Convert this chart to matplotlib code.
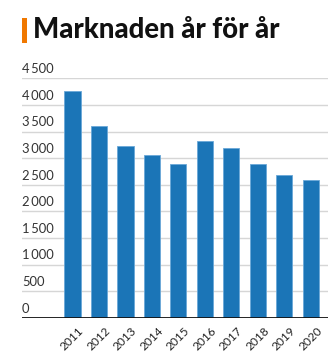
import matplotlib
matplotlib.use("Agg")
import matplotlib.pyplot as plt
from matplotlib.patches import Rectangle

years = ["2011", "2012", "2013", "2014", "2015", "2016", "2017", "2018", "2019", "2020"]
values = [4265, 3610, 3235, 3055, 2885, 3330, 3185, 2885, 2685, 2595]
yticks = [0, 500, 1000, 1500, 2000, 2500, 3000, 3500, 4000, 4500]
ytick_labels = ["0", "500", "1\u2009000", "1\u2009500", "2\u2009000", "2\u2009500", "3\u2009000", "3\u2009500", "4\u2009000", "4\u2009500"]
title = "Marknaden år för år"

W, H = 335, 358
fig = plt.figure(figsize=(W / 100, H / 100), dpi=100)
fig.patch.set_facecolor("white")

ax = fig.add_axes([22 / W, (H - 317.7) / H, 306 / W, 239.4 / H])
x = list(range(len(years)))
ax.bar(x, values, width=0.61, color="#1B75B7", edgecolor="#6aa8d8", linewidth=0.6, zorder=3)
ax.set_xlim(-1.907, 9.65)
ax.set_ylim(0, 4500)

for t in yticks:
    ax.axhline(t, color="#d6d6d6", linewidth=1.0, zorder=1)
ax.axhline(0, color="#111111", linewidth=2.0, zorder=4)

for t, lab in zip(yticks, ytick_labels):
    ax.annotate(lab, xy=(0, t), xycoords=("axes fraction", "data"),
                xytext=(0, 2.2), textcoords="offset points",
                ha="left", va="bottom", fontsize=9.4, color="#333333",
                family=["Lato", "DejaVu Sans"])

for i, yr in enumerate(years):
    ax.annotate(yr, xy=(i, 0), xycoords="data", xytext=(4, -5), textcoords="offset points",
                rotation=45, rotation_mode="anchor", ha="right", va="top",
                fontsize=8.6, color="#222222", family="Lato")

for s in ax.spines.values():
    s.set_visible(False)
ax.set_xticks([])
ax.set_yticks([])

fig.patches.append(Rectangle((22 / W, 1 - 43.3 / H), 5 / W, 25 / H, transform=fig.transFigure,
                             facecolor="#F07800", edgecolor="none"))
fig.text(33 / W, 1 - 37.5 / H, title, fontsize=19.8, fontweight="black", family="Lato",
         color="#111111", ha="left", va="baseline")

fig.savefig("out.png", dpi=100, facecolor="white")
